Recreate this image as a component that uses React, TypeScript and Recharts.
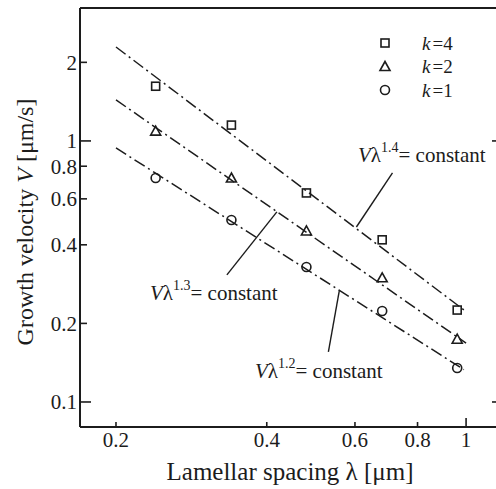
import { ComposedChart, Scatter, XAxis, YAxis, ReferenceLine, Legend } from "recharts";

// measured points, lamellar spacing (µm) vs growth velocity (µm/s)
const lambda = [0.24, 0.34, 0.48, 0.68, 0.96];
const velK4 = [1.62, 1.15, 0.632, 0.418, 0.225];
const velK2 = [1.09, 0.721, 0.452, 0.299, 0.174];
const velK1 = [0.721, 0.498, 0.329, 0.223, 0.135];

// fitted power-law lines (end points)
const fitLambda = [0.2, 1.0];
const fitLambdaK1 = [0.2, 0.99];
const fitK4 = [2.29, 0.222];
const fitK2 = [1.436, 0.168];
const fitK1 = [0.94, 0.133];

// leader lines from annotations to the fits
const leader14 = { lam: [0.713, 0.604], vel: [0.754, 0.468] };
const leader13 = { lam: [0.333, 0.419], vel: [0.307, 0.535] };
const leader12 = { lam: [0.531, 0.5587], vel: [0.1555, 0.2686] };

const xTicks = [0.2, 0.4, 0.6, 0.8, 1];
const yTicks = [0.1, 0.2, 0.4, 0.6, 0.8, 1, 2];

const X_DOMAIN = [0.1695, 1.185];
const Y_DOMAIN = [0.0802, 3.23];

const INK = "#1c1c1c";
const FONT = '"Liberation Serif", "Times New Roman", serif';

const zip = (xs: number[], ys: number[]) => xs.map((lam, i) => ({ lam, v: ys[i] }));

const isMajor = (v: number) => v === 1 || v === 0.1;

function Square(p: any) {
  return <rect x={p.cx - 4} y={p.cy - 4} width={8} height={8} fill="none" stroke={INK} strokeWidth={1.6} />;
}
function Triangle(p: any) {
  const { cx, cy } = p;
  return (
    <polygon
      points={`${cx},${cy - 5} ${cx - 5},${cy + 4} ${cx + 5},${cy + 4}`}
      fill="none"
      stroke={INK}
      strokeWidth={1.6}
    />
  );
}
function Circle(p: any) {
  return <circle cx={p.cx} cy={p.cy} r={4.5} fill="none" stroke={INK} strokeWidth={1.6} />;
}

const BottomTick = (p: any) => (
  <g>
    <line x1={p.x} x2={p.x} y1={p.y} y2={p.y - (isMajor(p.payload.value) ? 9 : 5)} stroke={INK} strokeWidth={1.6} />
    <text x={p.x} y={p.y + 20} textAnchor="middle" fontSize={21} style={{ fontFamily: FONT }} fill={INK}>
      {p.payload.value}
    </text>
  </g>
);
const TopTick = (p: any) => (
  <line x1={p.x} x2={p.x} y1={p.y} y2={p.y + (isMajor(p.payload.value) ? 10 : 6)} stroke={INK} strokeWidth={1.6} />
);
const LeftTick = (p: any) => (
  <g>
    <line x1={p.x} x2={p.x + (isMajor(p.payload.value) ? 11 : 7)} y1={p.y} y2={p.y} stroke={INK} strokeWidth={1.6} />
    <text x={p.x - 3} y={p.y} dy="0.35em" textAnchor="end" fontSize={21} style={{ fontFamily: FONT }} fill={INK}>
      {p.payload.value}
    </text>
  </g>
);
const RightTick = (p: any) => (
  <line x1={p.x} x2={p.x - (isMajor(p.payload.value) ? 11 : 7)} y1={p.y} y2={p.y} stroke={INK} strokeWidth={1.6} />
);

const legendShapes: Record<string, (p: any) => any> = { "4": Square, "2": Triangle, "1": Circle };

function LegendBox({ payload }: any) {
  const items = (payload || [])
    .filter((e: any) => e.type !== "none")
    .map((e: any) => String(e.value).split("=")[1])
    .sort((a: string, b: string) => Number(b) - Number(a));
  return (
    <svg width={110} height={75}>
      {items.map((k: string, i: number) => {
        const Shape = legendShapes[k];
        const cy = 12 + i * 23.5;
        return (
          <g key={k}>
            <Shape cx={10} cy={cy} />
            <text x={47} y={cy} dy="0.35em" fontSize={19} style={{ fontFamily: FONT }} fill={INK}>
              <tspan fontStyle="italic">k</tspan>
              <tspan dx={2}>=</tspan>
              <tspan>{k}</tspan>
            </text>
          </g>
        );
      })}
    </svg>
  );
}

function Annotation({ x, y, exp }: { x: number; y: number; exp: string }) {
  return (
    <text x={x} y={y} fontSize={21} style={{ fontFamily: FONT }} fill={INK}>
      <tspan fontStyle="italic">V</tspan>
      <tspan>λ</tspan>
      <tspan fontSize={14} dy={-10}>{exp}</tspan>
      <tspan dy={10}>= constant</tspan>
    </text>
  );
}

const dashDot = { stroke: INK, strokeWidth: 1.5, strokeDasharray: "12 4 2 4" };
const noDot = () => <g />;
const leaderStyle = { stroke: INK, strokeWidth: 1.4 };

export default function App() {
  return (
    <div style={{ position: "absolute", left: 0, top: 0, width: 496, height: 489, background: "#fff" }}>
      {/* plot frame runs past the right edge, as in the original figure */}
      <ComposedChart width={496} height={489} margin={{ top: 7, right: -8, left: 0, bottom: 61 }}>
        <XAxis
          dataKey="lam"
          type="number"
          scale="log"
          domain={X_DOMAIN}
          allowDataOverflow
          ticks={xTicks}
          interval={0}
          height={1}
          tickSize={0}
          tickMargin={0}
          tickLine={false}
          tick={BottomTick}
          axisLine={{ stroke: INK, strokeWidth: 2 }}
        />
        <XAxis
          xAxisId="top"
          orientation="top"
          type="number"
          scale="log"
          domain={X_DOMAIN}
          allowDataOverflow
          ticks={xTicks}
          interval={0}
          height={1}
          tickSize={0}
          tickMargin={0}
          tickLine={false}
          tick={TopTick}
          axisLine={{ stroke: INK, strokeWidth: 2 }}
        />
        <YAxis
          dataKey="v"
          type="number"
          scale="log"
          domain={Y_DOMAIN}
          allowDataOverflow
          ticks={yTicks}
          interval={0}
          width={80}
          tickSize={0}
          tickMargin={0}
          tickLine={false}
          tick={LeftTick}
          axisLine={{ stroke: INK, strokeWidth: 2 }}
        />
        <YAxis
          yAxisId="right"
          orientation="right"
          type="number"
          scale="log"
          domain={Y_DOMAIN}
          allowDataOverflow
          ticks={yTicks}
          interval={0}
          width={1}
          tickSize={0}
          tickMargin={0}
          tickLine={false}
          tick={RightTick}
          axisLine={false}
        />

        <Scatter data={zip(fitLambda, fitK4)} line={dashDot} shape={noDot} legendType="none" isAnimationActive={false} />
        <Scatter data={zip(fitLambda, fitK2)} line={dashDot} shape={noDot} legendType="none" isAnimationActive={false} />
        <Scatter data={zip(fitLambdaK1, fitK1)} line={dashDot} shape={noDot} legendType="none" isAnimationActive={false} />

        <ReferenceLine segment={[{ x: leader14.lam[0], y: leader14.vel[0] }, { x: leader14.lam[1], y: leader14.vel[1] }]} {...leaderStyle} />
        <ReferenceLine segment={[{ x: leader13.lam[0], y: leader13.vel[0] }, { x: leader13.lam[1], y: leader13.vel[1] }]} {...leaderStyle} />
        <ReferenceLine segment={[{ x: leader12.lam[0], y: leader12.vel[0] }, { x: leader12.lam[1], y: leader12.vel[1] }]} {...leaderStyle} />

        <Scatter name="k=4" data={zip(lambda, velK4)} shape={Square} isAnimationActive={false} />
        <Scatter name="k=2" data={zip(lambda, velK2)} shape={Triangle} isAnimationActive={false} />
        <Scatter name="k=1" data={zip(lambda, velK1)} shape={Circle} isAnimationActive={false} />

        <Legend
          layout="vertical"
          align="center"
          verticalAlign="middle"
          content={<LegendBox />}
          wrapperStyle={{ left: 375, top: 31, width: 110, height: 75 }}
        />

        <Annotation x={358} y={162} exp="1.4" />
        <Annotation x={150} y={300} exp="1.3" />
        <Annotation x={255} y={378} exp="1.2" />

        <text x={290} y={480} textAnchor="middle" fontSize={25} style={{ fontFamily: FONT }} fill={INK}>
          Lamellar spacing λ [μm]
        </text>
        <text x={33} y={222} transform="rotate(-90, 33, 222)" textAnchor="middle" fontSize={24} style={{ fontFamily: FONT }} fill={INK}>
          Growth velocity <tspan fontStyle="italic">V</tspan> [μm/s]
        </text>
      </ComposedChart>
    </div>
  );
}
